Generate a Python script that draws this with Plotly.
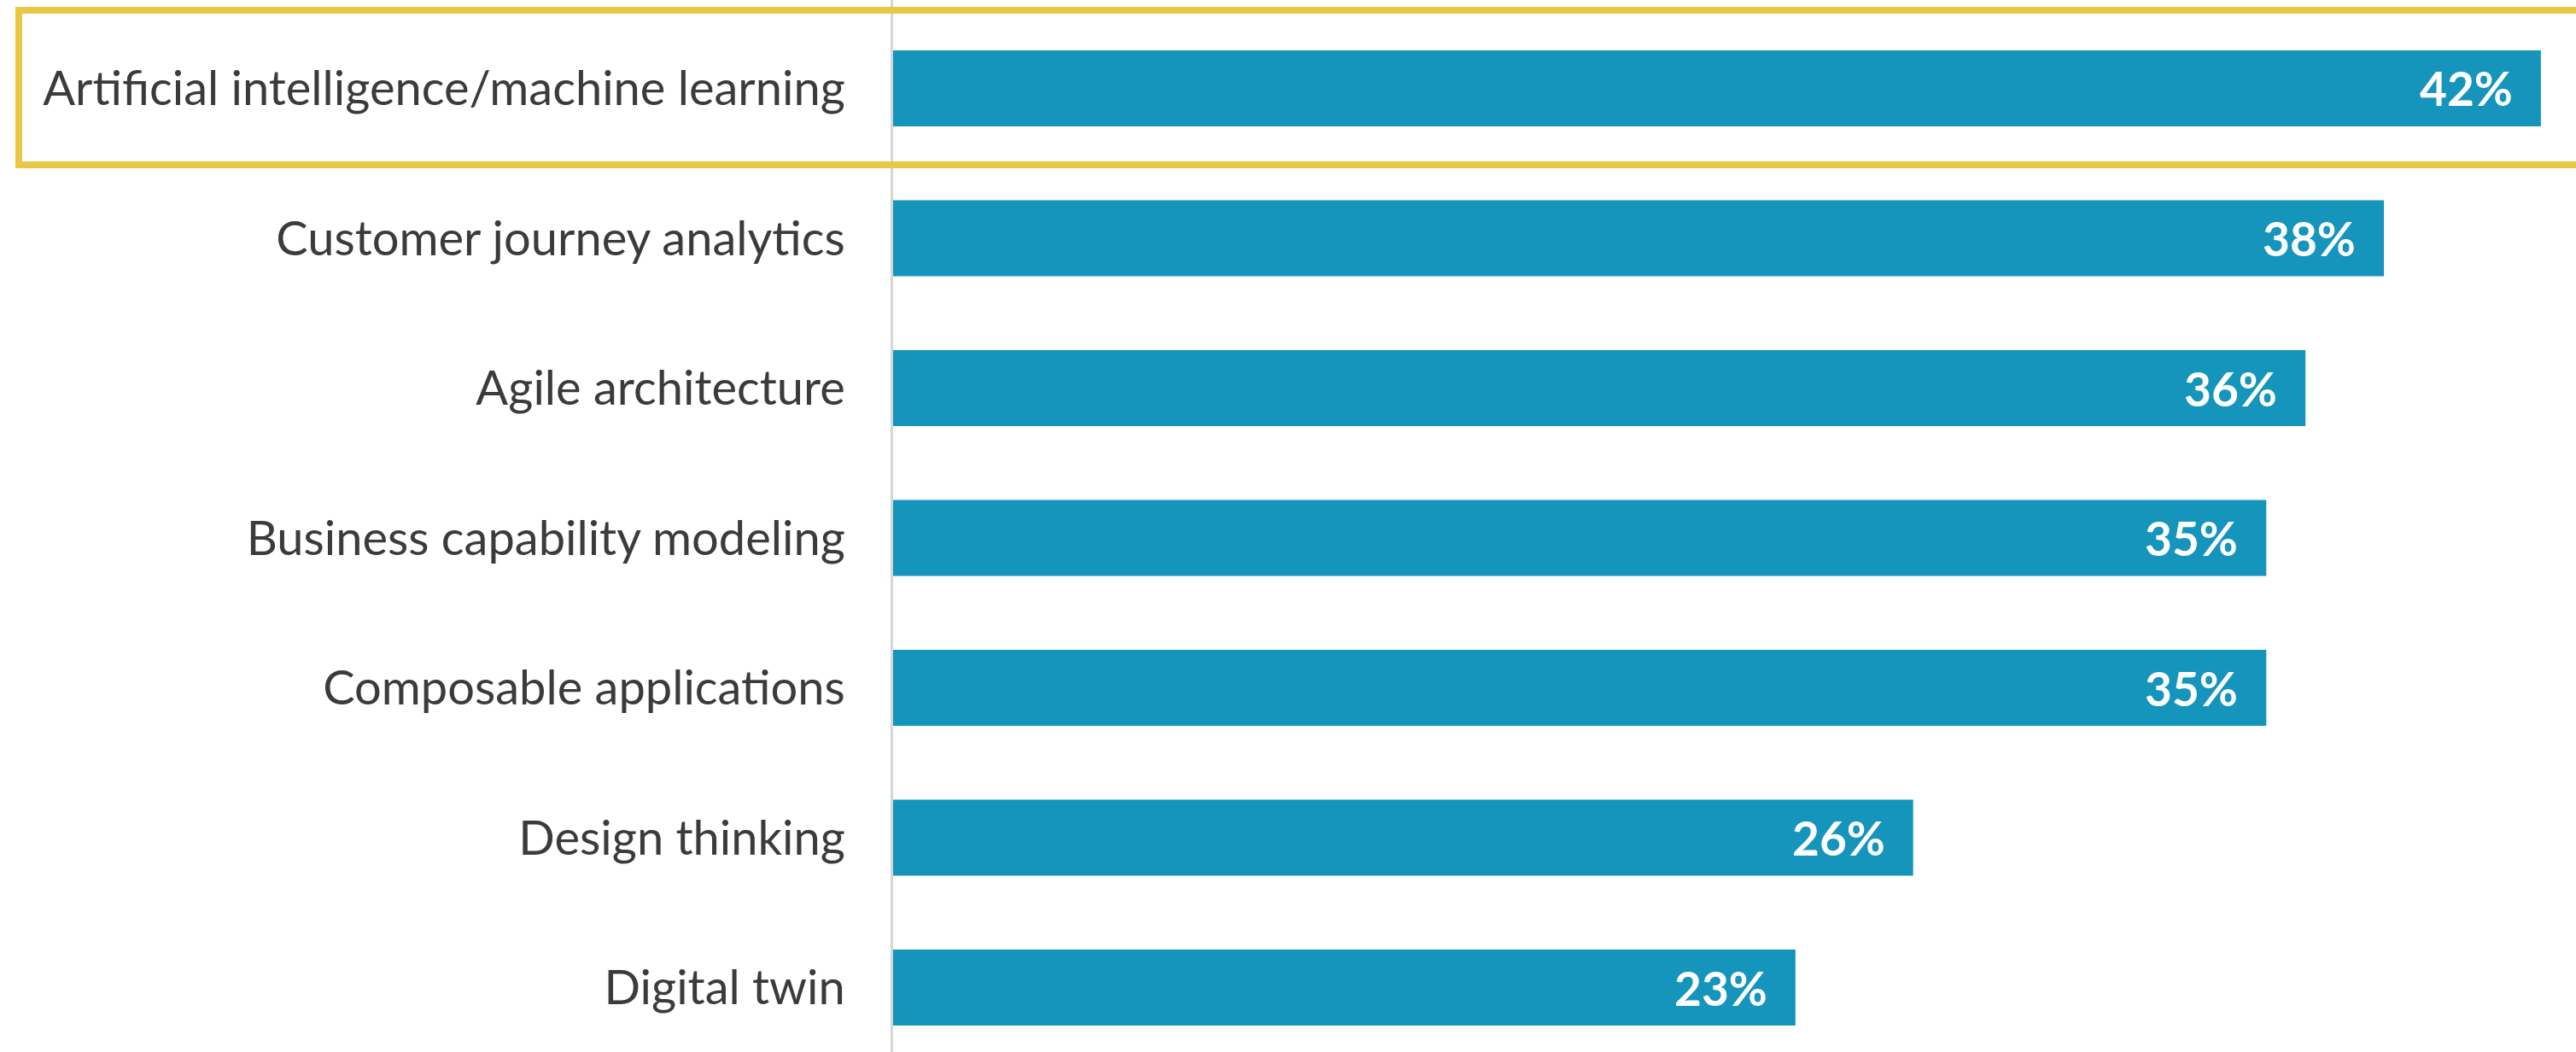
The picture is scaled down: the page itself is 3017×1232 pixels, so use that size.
import plotly.graph_objects as go

categories = [
    "Artificial intelligence/machine learning",
    "Customer journey analytics",
    "Agile architecture",
    "Business capability modeling",
    "Composable applications",
    "Design thinking",
    "Digital twin",
]
values = [42, 38, 36, 35, 35, 26, 23]
value_labels = [f"{v}%" for v in values]

W, H = 3017, 1232
LEFT = 1046
BAR_COLOR = "#1695BC"
FONT = "Source Sans Pro, Lato, Roboto, sans-serif"

fig = go.Figure(
    go.Bar(
        x=values,
        y=categories,
        orientation="h",
        marker=dict(color=BAR_COLOR, line=dict(width=0)),
        width=0.507,
        hoverinfo="skip",
    )
)

for v, c, t in zip(values, categories, value_labels):
    fig.add_annotation(
        x=v, y=c, text=f"<b>{t}</b>", xanchor="right", yanchor="middle",
        xshift=-31, showarrow=False,
        font=dict(family=FONT, size=55, color="white"),
    )

plot_w = W - LEFT
fig.add_shape(
    type="rect", xref="paper", yref="paper",
    x0=(22 - LEFT) / plot_w, x1=1.05,
    y0=1 - 193 / H, y1=1 - 12 / H,
    line=dict(color="#E8C744", width=8),
    fillcolor="rgba(0,0,0,0)", layer="above",
)

fig.update_layout(
    width=W, height=H,
    margin=dict(l=LEFT, r=0, t=0, b=0),
    paper_bgcolor="white", plot_bgcolor="white",
    showlegend=False,
    xaxis=dict(range=[0, (W - LEFT) / 45.95], visible=False, fixedrange=True),
    yaxis=dict(
        type="category",
        categoryorder="array", categoryarray=categories,
        range=[6.4302, -0.5897],
        showline=True, linecolor="#d6d6d6", linewidth=3,
        showgrid=False, zeroline=False,
        ticks="", ticklabelstandoff=42,
        tickfont=dict(family=FONT, size=56, color="#3b3b3b"),
        automargin=False,
    ),
)

fig.write_html("out.html")
